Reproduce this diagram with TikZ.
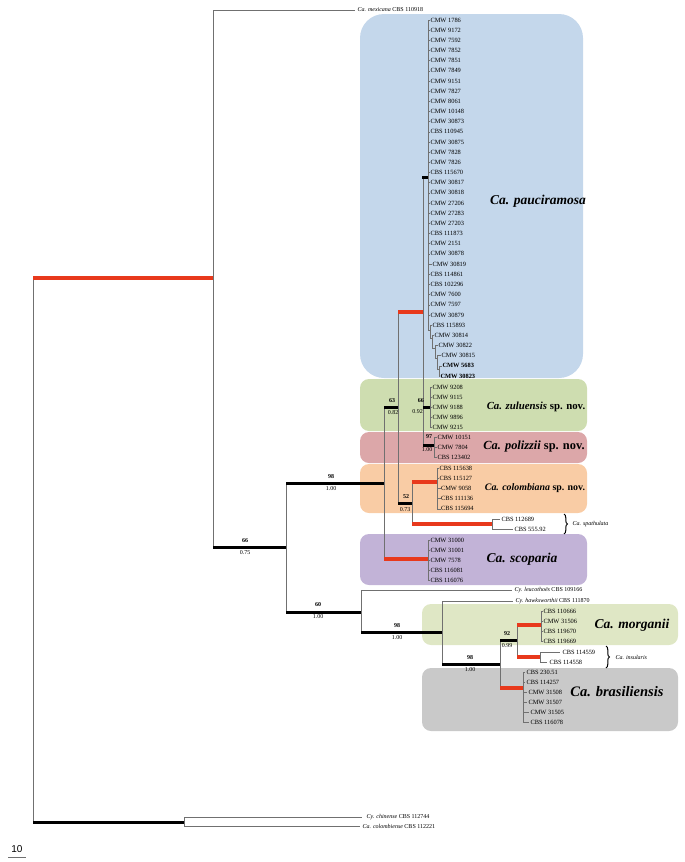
\documentclass[tikz,border=0pt]{standalone}
\usepackage{fontspec}
\setmainfont{Liberation Serif}
\newfontfamily\sansf{Liberation Sans}
\usetikzlibrary{decorations.pathreplacing}
\definecolor{bluebox}{HTML}{C4D7EB}
\definecolor{greenbox}{HTML}{CEDDB0}
\definecolor{pinkbox}{HTML}{DCA7A9}
\definecolor{orangebox}{HTML}{F9CCA5}
\definecolor{purplebox}{HTML}{C2B3D7}
\definecolor{morgbox}{HTML}{DFE7C5}
\definecolor{graybox}{HTML}{C9C9C9}
\definecolor{redbr}{HTML}{E8391C}
\definecolor{linegray}{HTML}{707070}
\begin{document}
\begin{tikzpicture}[x=1pt,y=-1pt,
  thinl/.style={draw=linegray,line width=0.5pt},
  blk/.style={draw=black,line width=3pt},
  redb/.style={draw=redbr,line width=3.5pt},
  tip/.style={anchor=west,inner sep=0.3pt,font=\fontsize{6.4}{7}\selectfont},
  bsv/.style={inner sep=0pt,font=\fontsize{6}{6}\selectfont\bfseries},
  ppv/.style={inner sep=0pt,font=\fontsize{6}{6}\selectfont},
  clade/.style={inner sep=0pt,font=\fontsize{13.5}{14}\selectfont\bfseries},
  cbox/.style={rounded corners=9pt,draw=none},
  brc/.style={decorate,decoration={brace,amplitude=3.5pt},line width=1pt},
  outl/.style={anchor=west,inner sep=0.3pt,font=\fontsize{6}{7}\selectfont}]
\useasboundingbox (0,0) rectangle (685,862);

% ---------- coloured clade boxes ----------
\fill[bluebox,rounded corners=24pt] (360,14) rectangle (583,378);
\fill[greenbox,cbox] (360,379) rectangle (587,431);
\fill[pinkbox,cbox] (360,432) rectangle (587,463);
\fill[orangebox,cbox] (360,464) rectangle (587,513);
\fill[purplebox,cbox] (360,534) rectangle (587,585);
\fill[morgbox,cbox] (422,604) rectangle (678,645);
\fill[graybox,cbox] (422,668) rectangle (678,731);

\node[clade] (tpau) at (538,201) {\itshape Ca. pauciramosa};
\node[clade,font=\fontsize{10.8}{12}\selectfont\bfseries] (tzul) at (536,407) {{\itshape Ca. zuluensis} sp. nov.};
\node[clade,font=\fontsize{12.4}{13}\selectfont\bfseries] (tpol) at (534,447) {{\itshape Ca. polizzii} sp. nov.};
\node[clade,font=\fontsize{9.9}{12}\selectfont\bfseries] (tcol) at (535,488) {{\itshape Ca. colombiana} sp. nov.};
\node[clade] (tsco) at (522,559) {\itshape Ca. scoparia};
\node[clade] (tmor) at (632,625) {\itshape Ca. morganii};
\node[clade,font=\fontsize{14.5}{15}\selectfont\bfseries] (tbra) at (617,692) {\itshape Ca. brasiliensis};

% ---------- backbone ----------
\draw[thinl] (33,278) -- (33,822);
\draw[redb] (33,278) -- (213,278);
\draw[thinl] (213,10) -- (213,547);
\draw[thinl] (213,10) -- (355,10);
\node[outl] (mex) at (357,10) {\textit{Ca. mexicana} CBS 110918};
\draw[blk] (213,547) -- (286,547);
\node[bsv] (b66a) at (245,541) {66};
\node[ppv] (p66a) at (245,553) {0.75};
\draw[thinl] (286,483) -- (286,612);
\draw[blk] (286,483) -- (384,483);
\node[bsv] (b98a) at (331,477) {98};
\node[ppv] (p98a) at (331,489) {1.00};
\draw[thinl] (384,407) -- (384,559);
\draw[blk] (384,407) -- (398,407);
\node[bsv] (b63) at (392,401) {63};
\node[ppv] (p63) at (393,413) {0.82};
\draw[redb] (384,559) -- (428,559);
\draw[thinl] (398,312) -- (398,503);
\draw[redb] (398,312) -- (423,312);
\draw[blk] (398,503) -- (412,503);
\node[bsv] (b52) at (406,497) {52};
\node[ppv] (p52) at (405,510) {0.73};
\draw[thinl] (423,177) -- (423,445);
\draw[blk] (422,177) -- (428,177);
\draw[blk] (423,407) -- (430,407);
\node[bsv,anchor=east] (b66b) at (424,401) {66};
\node[ppv,anchor=east] (p66b) at (423,412) {0.92};
\draw[blk] (423,445) -- (434,445);
\node[bsv] (b97) at (429,437) {97};
\node[ppv] (p97) at (427,450) {1.00};

% ---------- Ca. pauciramosa ----------
\draw[thinl] (428,20) -- (428,330);
\foreach \lab [count=\i from 0] in {CMW 1786,CMW 9172,CMW 7592,CMW 7852,CMW 7851,CMW 7849,CMW 9151,CMW 7827,CMW 8061,CMW 10148,CMW 30873,CBS 110945,CMW 30875,CMW 7828,CMW 7826,CBS 115670,CMW 30817,CMW 30818,CMW 27206,CMW 27283,CMW 27203,CBS 111873,CMW 2151,CMW 30878}{
  \pgfmathsetmacro\yy{20+\i*10.17}
  \draw[thinl] (428,\yy) -- (430,\yy);
  \node[tip] (pa\i) at (430,\yy) {\lab};
}
\draw[thinl] (428,264.1) -- (432,264.1);
\node[tip] (pa24) at (432,264.1) {CMW 30819};
\foreach \lab [count=\i from 25] in {CBS 114861,CBS 102296,CMW 7600,CMW 7597,CMW 30879}{
  \pgfmathsetmacro\yy{20+\i*10.17}
  \draw[thinl] (428,\yy) -- (430,\yy);
  \node[tip] (pa\i) at (430,\yy) {\lab};
}
\draw[thinl] (428,330) -- (430,330) (430,325.1) -- (430,338);
\draw[thinl] (430,325.1) -- (432,325.1);
\node[tip] (pa30) at (432,325.1) {CBS 115893};
\draw[thinl] (430,338) -- (432,338) (432,335.3) -- (432,348);
\draw[thinl] (432,335.3) -- (434,335.3);
\node[tip] (pa31) at (434,335.3) {CMW 30814};
\draw[thinl] (432,348) -- (435,348) (435,345.5) -- (435,358);
\draw[thinl] (435,345.5) -- (438,345.5);
\node[tip] (pa32) at (438,345.5) {CMW 30822};
\draw[thinl] (435,358) -- (437,358) (437,355.7) -- (437,369);
\draw[thinl] (437,355.7) -- (441,355.7);
\node[tip] (pa33) at (441,355.7) {CMW 30815};
\draw[thinl] (437,369) -- (439,369) (439,365.8) -- (439,376);
\draw[thinl] (439,365.8) -- (442,365.8);
\node[tip] (pa34) at (442,365.8) {\bfseries CMW 5683};
\draw[thinl] (439,376) -- (440,376);
\node[tip] (pa35) at (440,376) {\bfseries CMW 30823};

% ---------- Ca. zuluensis ----------
\draw[thinl] (430,387) -- (430,427);
\foreach \lab [count=\i from 0] in {CMW 9208,CMW 9115,CMW 9188,CMW 9896,CMW 9215}{
  \pgfmathsetmacro\yy{387+\i*10}
  \draw[thinl] (430,\yy) -- (432,\yy);
  \node[tip] (zu\i) at (432,\yy) {\lab};
}

% ---------- Ca. polizzii ----------
\draw[thinl] (434,437) -- (434,457);
\foreach \lab [count=\i from 0] in {CMW 10151,CMW 7804,CBS 123402}{
  \pgfmathsetmacro\yy{437+\i*10}
  \draw[thinl] (434,\yy) -- (437,\yy);
  \node[tip] (po\i) at (437,\yy) {\lab};
}

% ---------- Ca. colombiana + spathulata ----------
\draw[thinl] (412,482) -- (412,524);
\draw[redb] (412,482) -- (437,482);
\draw[thinl] (437,468) -- (437,509);
\foreach \lab [count=\i from 0] in {CBS 115638,CBS 115127,CMW 9058,CBS 111136,CBS 115694}{
  \pgfmathsetmacro\yy{468+\i*10.2}
  \pgfmathsetmacro\xx{439+(\i>1)*1.5}
  \draw[thinl] (437,\yy) -- (\xx,\yy);
  \node[tip] (co\i) at (\xx,\yy) {\lab};
}
\draw[redb] (412,524) -- (492,524);
\draw[thinl] (492,519) -- (492,529);
\draw[thinl] (492,519) -- (500,519);
\node[tip] (sp0) at (501,519) {CBS 112689};
\draw[thinl] (492,529) -- (513,529);
\node[tip] (sp1) at (514,529) {CBS 555.92};
\draw[brc] (564,514) -- (564,534);
\node[outl] (spa) at (572,524) {\itshape Ca. spathulata};

% ---------- Ca. scoparia ----------
\draw[thinl] (428,540) -- (428,580);
\foreach \lab [count=\i from 0] in {CMW 31000,CMW 31001,CMW 7578,CBS 116081,CBS 116076}{
  \pgfmathsetmacro\yy{540+\i*10}
  \draw[thinl] (428,\yy) -- (430,\yy);
  \node[tip] (sc\i) at (430,\yy) {\lab};
}

% ---------- lower part ----------
\draw[blk] (286,612) -- (361,612);
\node[bsv] (b60) at (318,605) {60};
\node[ppv] (p60) at (318,617) {1.00};
\draw[thinl] (361,590) -- (361,632);
\draw[thinl] (361,590) -- (512,590);
\node[outl] (leu) at (514,590) {\textit{Cy. leucotho\"es} CBS 109166};
\draw[blk] (361,632) -- (442,632);
\node[bsv] (b98b) at (397,626) {98};
\node[ppv] (p98b) at (397,638) {1.00};
\draw[thinl] (442,601) -- (442,664);
\draw[thinl] (442,601) -- (513,601);
\node[outl] (haw) at (515,601) {\textit{Cy. hawksworthii} CBS 111870};
\draw[blk] (442,664) -- (500,664);
\node[bsv] (b98c) at (470,658) {98};
\node[ppv] (p98c) at (470,670) {1.00};
\draw[thinl] (500,640) -- (500,688);
\draw[blk] (500,640) -- (517,640);
\node[bsv] (b92) at (507,634) {92};
\node[ppv] (p92) at (507,646) {0.99};
\draw[thinl] (517,625) -- (517,657);
\draw[redb] (517,625) -- (541,625);
\draw[thinl] (541,611) -- (541,641);
\foreach \lab [count=\i from 0] in {CBS 110666,CMW 31506,CBS 119670,CBS 119669}{
  \pgfmathsetmacro\yy{611+\i*10}
  \draw[thinl] (541,\yy) -- (543,\yy);
  \node[tip] (mo\i) at (543,\yy) {\lab};
}
\draw[redb] (517,657) -- (540,657);
\draw[thinl] (540,652) -- (540,662);
\draw[thinl] (540,652) -- (560,652);
\node[tip] (in0) at (562,652) {CBS 114559};
\draw[thinl] (540,662) -- (547,662);
\node[tip] (in1) at (549,662) {CBS 114558};
\draw[brc] (606,646) -- (606,668);
\node[outl] (ins) at (615,657) {\itshape Ca. insularis};
\draw[redb] (500,688) -- (523,688);
\draw[thinl] (523,672) -- (523,722);
\foreach \lab/\xx [count=\i from 0] in {CBS 230.51/526,CBS 114257/526,CMW 31508/528,CMW 31507/528,CMW 31505/530,CBS 116078/530}{
  \pgfmathsetmacro\yy{672+\i*10}
  \draw[thinl] (523,\yy) -- (\xx-1,\yy);
  \node[tip] (br\i) at (\xx,\yy) {\lab};
}

% ---------- outgroup ----------
\draw[blk] (33,822) -- (184,822);
\draw[thinl] (184,817) -- (184,826);
\draw[thinl] (184,817) -- (362,817);
\node[outl] (chi) at (366,817) {\textit{Cy. chinense} CBS 112744};
\draw[thinl] (184,826) -- (360,826);
\node[outl] (col) at (362,826) {\textit{Ca. colombiense} CBS 112221};

% ---------- scale bar ----------
\node[inner sep=0pt,font=\sansf\fontsize{10}{10}\selectfont] (sc) at (17,849) {10};
\draw[linegray,line width=0.6pt] (8,857) -- (26,857);
\end{tikzpicture}
\end{document}
